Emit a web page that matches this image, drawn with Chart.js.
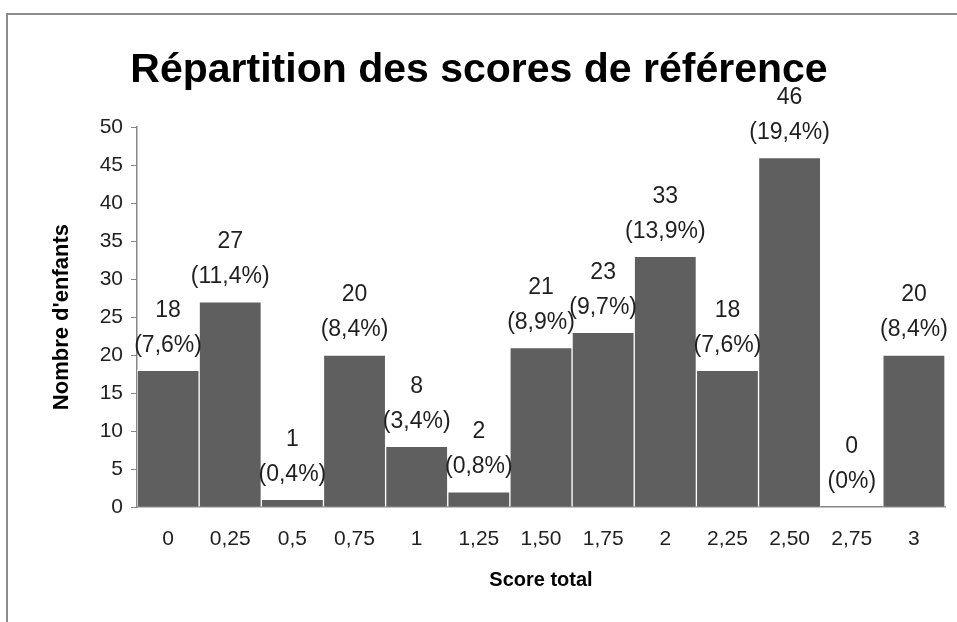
<!DOCTYPE html>
<html>
<head>
<meta charset="utf-8">
<script src="https://cdn.jsdelivr.net/npm/chart.js@4.4.1/dist/chart.umd.min.js"></script>
<style>
  html, body { margin: 0; padding: 0; background: #ffffff; }
  #wrap { width: 957px; height: 622px; position: relative; }
</style>
</head>
<body>
<div id="wrap"><canvas id="scoreChart" width="957" height="622"></canvas></div>
<script>
// scores (x axis)
const scoreLabels = ["0", "0,25", "0,5", "0,75", "1", "1,25", "1,50", "1,75", "2", "2,25", "2,50", "2,75", "3"];
// nombre d'enfants par score
const childCounts = [18, 27, 1, 20, 8, 2, 21, 23, 33, 18, 46, 0, 20];
// pourcentages affiches au-dessus des barres
const percentLabels = ["7,6%", "11,4%", "0,4%", "8,4%", "3,4%", "0,8%", "8,9%", "9,7%", "13,9%", "7,6%", "19,4%", "0%", "8,4%"];

const FONT = "'Liberation Sans', Arial, sans-serif";

// gray frame around the chart (top and left edges only visible)
const framePlugin = {
  id: "frame",
  beforeDraw(chart) {
    const ctx = chart.ctx;
    ctx.save();
    ctx.strokeStyle = "#8c8c8c";
    ctx.lineWidth = 2;
    ctx.beginPath();
    ctx.moveTo(7, 640);
    ctx.lineTo(7, 14);
    ctx.lineTo(970, 14);
    ctx.stroke();
    ctx.restore();
  },
};

// two-line labels: count then (percent)
const barLabelPlugin = {
  id: "barLabels",
  afterDatasetsDraw(chart) {
    const ctx = chart.ctx;
    const meta = chart.getDatasetMeta(0);
    ctx.save();
    ctx.fillStyle = "#1f1f1f";
    ctx.font = "23px " + FONT;
    ctx.textAlign = "center";
    ctx.textBaseline = "middle";
    meta.data.forEach((bar, i) => {
      ctx.fillText(String(childCounts[i]), bar.x, bar.y - 60);
      ctx.fillText("(" + percentLabels[i] + ")", bar.x, bar.y - 25);
    });
    ctx.restore();
  },
};

const ctx = document.getElementById("scoreChart").getContext("2d");
new Chart(ctx, {
  type: "bar",
  data: {
    labels: scoreLabels,
    datasets: [
      {
        data: childCounts,
        backgroundColor: "#5f5f5f",
        borderColor: "#ffffff",
        borderWidth: 1,
        barPercentage: 1,
        categoryPercentage: 1,
      },
    ],
  },
  options: {
    responsive: false,
    animation: false,
    layout: { padding: { left: 13, right: 12, top: 0, bottom: 0 } },
    plugins: {
      legend: { display: false },
      tooltip: { enabled: false },
      title: {
        display: true,
        text: "Répartition des scores de référence",
        color: "#000000",
        font: { family: FONT, size: 41, weight: "bold" },
        padding: { top: 46, bottom: 32 },
      },
    },
    scales: {
      x: {
        afterFit: (scale) => { scale.height = 115; },
        grid: { drawOnChartArea: false, drawTicks: false },
        border: { color: "#868686", width: 1.5 },
        ticks: { color: "#1f1f1f", font: { family: FONT, size: 21 }, padding: 20 },
        title: {
          display: true,
          text: "Score total",
          color: "#000000",
          font: { family: FONT, size: 20, weight: "bold" },
          padding: { top: 0, bottom: 30 },
        },
      },
      y: {
        min: 0,
        max: 50,
        afterFit: (scale) => { scale.width = 124; },
        grid: { drawOnChartArea: false, tickLength: 6, color: "#868686" },
        border: { color: "#868686", width: 1.5 },
        ticks: { stepSize: 5, color: "#1f1f1f", font: { family: FONT, size: 21 }, padding: 8 },
        title: {
          display: true,
          text: "Nombre d'enfants",
          color: "#000000",
          font: { family: FONT, size: 22, weight: "bold" },
          padding: { top: 36, bottom: 0 },
        },
      },
    },
  },
  plugins: [framePlugin, barLabelPlugin],
});
</script>
</body>
</html>
